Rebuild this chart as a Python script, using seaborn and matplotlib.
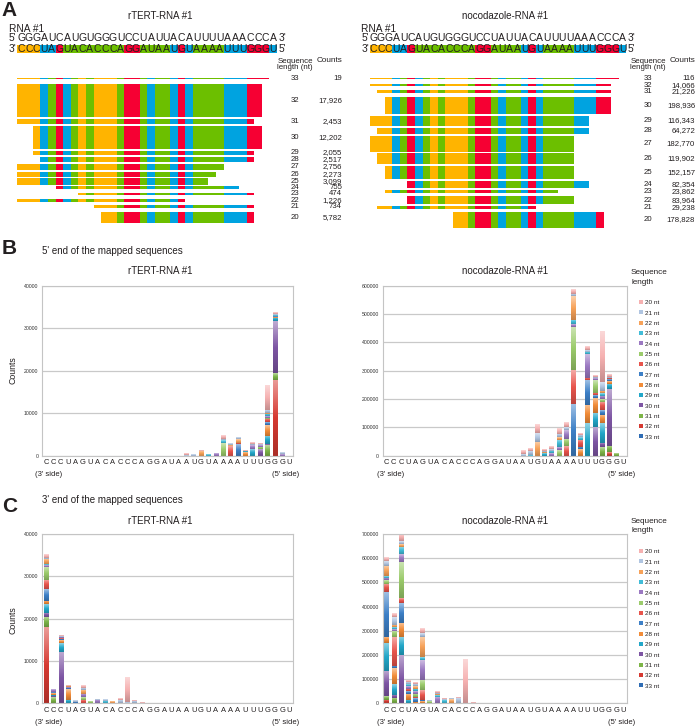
import numpy as np
import pandas as pd
import matplotlib
matplotlib.use("Agg")
import matplotlib.pyplot as plt
from matplotlib.lines import Line2D
from matplotlib.colors import LinearSegmentedColormap, to_rgb
import seaborn as sns

W, H = 696, 727

# ---------------------------------------------------------------- data
SEQ_TOP = "GGGAUCAUGUGGGUCCUAUUACAUUUUAAACCCA"
SEQ_BOT = "CCCUAGUACACCCAGGAUAAUGUAAAAUUUGGGU"
SEQ_HILITE = "CCCUUGAAAAAAAAGGAAAAUGUAAAAUUUGGGU"  # background key of the 3' row

READ_LEN = [33, 32, 31, 30, 29, 28, 27, 26, 25, 24, 23, 22, 21, 20]
RTERT_START = [1, 1, 1, 3, 3, 4, 1, 1, 1, 6, 9, 1, 11, 12]
RTERT_COUNTS = [19, 17926, 2453, 12202, 2055, 2517, 2756, 2273, 3099, 755, 474, 1226, 734, 5782]
NOCO_START = [1, 1, 2, 3, 1, 2, 1, 2, 3, 6, 3, 6, 2, 12]
NOCO_COUNTS = [116, 14066, 21226, 198936, 116343, 64272, 182770, 119902, 152157, 82354,
               23862, 83964, 29238, 178828]

# counts per position (1-based along SEQ_BOT) -> {read length: count}
END5_RTERT = {
    20: {20: 300, 21: 100},
    21: {21: 300},
    22: {22: 1200, 20: 100},
    23: {23: 250},
    24: {24: 500},
    25: {25: 3000, 23: 600, 21: 300, 20: 800},
    26: {26: 2300, 22: 200, 21: 300},
    27: {27: 2756, 26: 300, 22: 800, 21: 250},
    28: {28: 800, 23: 300, 20: 200},
    29: {29: 1500, 24: 900, 21: 400, 20: 400},
    30: {30: 1500, 25: 600, 24: 400, 21: 200, 20: 200},
    31: {31: 2453, 30: 200, 29: 2055, 28: 2517, 27: 600, 26: 800, 25: 300, 24: 300,
         23: 474, 22: 400, 21: 734, 20: 5782},
    32: {32: 17926, 31: 1500, 30: 12202, 29: 800, 28: 200, 27: 200, 23: 200, 22: 100,
         21: 200, 20: 300},
    33: {24: 300, 21: 400},
}
END5_NOCO = {
    20: {21: 5000, 20: 12000},
    21: {23: 3000, 21: 15000, 20: 10000},
    22: {22: 50000, 21: 30000, 20: 30000},
    23: {29: 8000, 22: 6000, 21: 4000, 20: 4000},
    24: {24: 8000, 23: 10000, 21: 6000, 20: 8000},
    25: {25: 20000, 24: 10000, 23: 25000, 22: 10000, 21: 13000, 20: 20000},
    26: {26: 35000, 25: 25000, 24: 30000, 21: 10000, 20: 15000},
    27: {27: 182770, 26: 119902, 25: 152157, 24: 10000, 23: 15000, 22: 83964, 21: 8000,
         20: 15000},
    28: {28: 22000, 27: 8000, 26: 25000, 23: 10000, 21: 8000, 20: 7000},
    29: {29: 116343, 28: 64272, 27: 85000, 26: 10000, 24: 82354, 23: 8000, 21: 6000,
         20: 13000},
    30: {30: 100000, 29: 50000, 28: 55000, 27: 10000, 26: 8000, 25: 45000, 24: 5000,
         21: 4000, 20: 5000},
    31: {31: 30000, 30: 15000, 29: 70000, 28: 30000, 27: 15000, 26: 30000, 25: 10000,
         24: 12000, 23: 8000, 22: 10000, 21: 30000, 20: 178828},
    32: {32: 14066, 31: 21226, 30: 198936, 29: 20000, 28: 10000, 27: 5000, 26: 5000,
         21: 5000, 20: 8000},
    33: {31: 8000},
}
END3_RTERT = {
    1: {32: 17926, 31: 2453, 30: 1000, 29: 2000, 28: 800, 27: 2756, 26: 2273, 25: 3099,
        24: 300, 23: 200, 22: 1226, 21: 300, 20: 800},
    2: {31: 1400, 30: 300, 29: 300, 28: 400, 27: 200, 24: 500},
    3: {30: 12202, 29: 2055, 28: 600, 27: 300, 26: 200, 24: 300, 21: 200, 20: 200},
    4: {29: 800, 28: 2517, 27: 300, 24: 200, 22: 300, 20: 200},
    5: {27: 300, 21: 400},
    6: {26: 800, 25: 600, 24: 755, 22: 1000, 21: 500, 20: 650},
    7: {25: 300},
    8: {24: 800, 21: 200},
    9: {23: 500, 21: 300},
    10: {22: 400},
    11: {21: 750, 20: 250},
    12: {21: 200, 20: 5782},
    13: {21: 500, 20: 100},
    14: {20: 150},
}
END3_NOCO = {
    1: {33: 116, 32: 14066, 31: 15000, 30: 105000, 29: 116343, 28: 25000, 27: 182770,
        26: 35000, 25: 15000, 24: 10000, 23: 8000, 22: 42000, 21: 20000, 20: 15000},
    2: {31: 21226, 30: 15000, 29: 45000, 28: 64272, 27: 10000, 26: 119902, 25: 25000,
        24: 8000, 23: 7000, 22: 10000, 21: 30000, 20: 14000},
    3: {30: 198936, 29: 75000, 28: 60000, 27: 80000, 26: 20000, 25: 152157, 24: 30000,
        23: 30000, 22: 12000, 21: 12000, 20: 30000},
    4: {29: 15000, 28: 25000, 27: 10000, 26: 10000, 24: 10000, 23: 8000, 21: 12000,
        20: 8000},
    5: {28: 5000, 27: 15000, 26: 5000, 25: 15000, 24: 10000, 23: 10000, 22: 10000,
        21: 10000, 20: 8000},
    6: {28: 8000, 27: 5000, 26: 40000, 25: 45000, 24: 82354, 23: 10000, 22: 83964,
        21: 15000, 20: 20000},
    7: {25: 8000, 21: 4000},
    8: {24: 25000, 23: 8000, 22: 5000, 21: 6000, 20: 8000},
    9: {23: 15000, 21: 3000, 20: 2000},
    10: {22: 16000, 21: 4000},
    11: {21: 22000, 20: 3000},
    12: {20: 178828},
    13: {20: 3000},
}

NUC_COLORS = {"C": "#FFB400", "U": "#00A3E0", "A": "#6CBF00", "G": "#F60033"}
SERIES_COLORS = {
    33: "#2F6DB5", 32: "#D63A32", 31: "#7DB548", 30: "#7E56A4", 29: "#22A7C9", 28: "#F28C38",
    27: "#3D80C7", 26: "#E8544C", 25: "#9BCB6B", 24: "#9B79C2", 23: "#41BCD8", 22: "#F7A259",
    21: "#B0C5E1", 20: "#F6B1B1",
}

# ---------------------------------------------------------------- style
sns.set_style("white")
plt.rcParams["font.family"] = ["Liberation Sans", "DejaVu Sans"]
plt.rcParams["text.color"] = "#231F20"

fig = plt.figure(figsize=(W / 100, H / 100), dpi=100)


def px_rect(left, top, width, height):
    return [left / W, 1 - (top + height) / H, width / W, height / H]


def ftext(x, y, s, **kw):
    kw.setdefault("va", "center")
    fig.text(x / W, 1 - y / H, s, **kw)


# ---------------------------------------------------------------- panel A
def draw_alignment(left, x0, step, starts, counts, k, title, title_x, len_x, cnt_x):
    ax = fig.add_axes(px_rect(left, 0, 348, 232))
    ax.set_xlim((left - x0) / step, (left + 348 - x0) / step)
    ax.set_ylim(232, 0)
    ax.axis("off")

    def u(px):
        return (px - x0) / step

    ax.text(u(title_x), 16, title, ha="center", va="center", fontsize=7)
    ax.text(-1.15, 29, "RNA #1", ha="left", va="center", fontsize=7.3)

    ax.text(-0.1, 38, "5'", ha="right", va="center", fontsize=7.3)
    ax.text(34.15, 38, "3'", ha="left", va="center", fontsize=7.3)
    for i, ch in enumerate(SEQ_TOP):
        ax.text(i + 0.5, 38, ch, ha="center", va="center", fontsize=7.5)

    ax.barh(49.2, 1, left=np.arange(34), height=8.6,
            color=[NUC_COLORS[c] for c in SEQ_HILITE], linewidth=0)
    ax.text(-0.1, 49.4, "3'", ha="right", va="center", fontsize=7.3)
    ax.text(34.15, 49.4, "5'", ha="left", va="center", fontsize=7.3)
    for i, ch in enumerate(SEQ_BOT):
        ax.text(i + 0.5, 49.4, ch, ha="center", va="center", fontsize=7.5)

    ax.text(u(len_x), 64.5, "Sequence\nlength (nt)", ha="center", va="center",
            fontsize=5.7, linespacing=0.85)
    ax.text(u(cnt_x), 61, "Counts", ha="right", va="center", fontsize=5.9)

    y = 77.8
    for length, s, c in zip(READ_LEN, starts, counts):
        h = 1 + k * c
        idx = np.arange(s - 1, s - 1 + length)
        ax.barh(y + h / 2, 1, left=idx, height=h,
                color=[NUC_COLORS[SEQ_BOT[i]] for i in idx], linewidth=0)
        ax.text(u(len_x), y + h / 2, str(length), ha="center", va="center", fontsize=5.6)
        ax.text(u(cnt_x), y + h / 2, f"{c:,}", ha="right", va="center", fontsize=5.6)
        y += max(h + 1.6, 6.3)


draw_alignment(0, 17.3, 7.64, RTERT_START, RTERT_COUNTS, 0.0018, "rTERT-RNA #1", 160, 295, 342)
draw_alignment(348, 369.7, 7.55, NOCO_START, NOCO_COUNTS, 0.000082, "nocodazole-RNA #1",
               505, 648, 695)


# ---------------------------------------------------------------- panels B / C
def stack_table(data):
    rows = [(pos - 1, length, c) for pos, seg in data.items() for length, c in seg.items()]
    df = pd.DataFrame(rows, columns=["pos", "length", "count"])
    tab = df.pivot_table(index="pos", columns="length", values="count", aggfunc="sum",
                         fill_value=0)
    return tab.reindex(index=range(34), columns=READ_LEN, fill_value=0)


def gradient_cmap(color):
    c = np.array(to_rgb(color))
    dark = c * 0.8
    light = c + (1 - c) * 0.5
    return LinearSegmentedColormap.from_list("g", [dark, c, light])


def draw_stack(rect, data, ymax, ystep, legend_top=None):
    ax = fig.add_axes(px_rect(*rect))
    tab = stack_table(data)
    cum = tab.cumsum(axis=1)
    for length in reversed(READ_LEN):
        sns.barplot(x=list(cum.index), y=cum[length].values, order=list(range(34)),
                    color=SERIES_COLORS[length], width=0.6, saturation=1,
                    errorbar=None, linewidth=0, ax=ax)
    # excel-like shading of each stacked segment, dark at the base, pale at the top
    ramp = np.linspace(0, 1, 64).reshape(-1, 1)
    for pos in tab.index:
        base = 0
        for length in READ_LEN:
            c = tab.at[pos, length]
            if c > 0:
                ax.imshow(ramp, extent=[pos - 0.3, pos + 0.3, base, base + c], origin="lower",
                          cmap=gradient_cmap(SERIES_COLORS[length]), aspect="auto",
                          interpolation="bilinear", zorder=2.5)
            base += c
    ax.set_xlim(-0.5, 33.5)
    ax.set_ylim(0, ymax)
    ax.set_aspect("auto")
    ax.set_xlabel("")
    ax.set_ylabel("")
    ticks = np.arange(0, ymax + 1, ystep)
    ax.set_yticks(ticks, labels=[str(int(t)) for t in ticks])
    ax.set_xticks(range(34), labels=list(SEQ_BOT))
    ax.tick_params(axis="y", labelsize=3.7, length=0, pad=3, labelcolor="#333333")
    ax.tick_params(axis="x", labelsize=5.4, length=0, pad=2.5, labelcolor="#231F20")
    ax.yaxis.grid(True, color="#C9C9C9", linewidth=0.9)
    ax.set_axisbelow(True)
    for sp in ax.spines.values():
        sp.set_color("#C4C4C4")
        sp.set_linewidth(0.8)

    if legend_top is not None:
        handles = [Line2D([], [], marker="s", linestyle="", markersize=2.4,
                          markerfacecolor=SERIES_COLORS[L], markeredgewidth=0)
                   for L in reversed(READ_LEN)]
        labels = [f"{L} nt" for L in reversed(READ_LEN)]
        leg = ax.legend(handles, labels, loc="upper left",
                        bbox_to_anchor=(631 / W, 1 - legend_top / H),
                        bbox_transform=fig.transFigure, frameon=False, fontsize=4.6,
                        title="Sequence\nlength\n", title_fontsize=5.9,
                        handlelength=0.5, handletextpad=0.25, labelspacing=0.76,
                        borderpad=0, borderaxespad=0)
        leg.get_title().set_linespacing(1.5)
    return ax


draw_stack((42.3, 285.7, 251, 170), END5_RTERT, 40000, 10000)
draw_stack((383, 285.7, 244, 170), END5_NOCO, 600000, 100000, legend_top=269)
draw_stack((42.3, 534, 251, 169.3), END3_RTERT, 40000, 10000)
draw_stack((383, 534, 244, 169.3), END3_NOCO, 700000, 100000, legend_top=518)

# ---------------------------------------------------------------- labels
ftext(1, 11, "A", fontsize=15, fontweight="bold", ha="left")
ftext(2, 249, "B", fontsize=15, fontweight="bold", ha="left")
ftext(2, 507, "C", fontsize=15, fontweight="bold", ha="left")
ftext(42, 251, "5' end of the mapped sequences", fontsize=7, ha="left")
ftext(42, 500, "3' end of the mapped sequences", fontsize=7, ha="left")
for y in (271, 521):
    ftext(160, y, "rTERT-RNA #1", fontsize=7, ha="center")
    ftext(505, y, "nocodazole-RNA #1", fontsize=7, ha="center")
for y in (370, 620):
    ftext(13, y, "Counts", fontsize=6.3, ha="center", rotation=90)
for y in (475, 722):
    ftext(35, y, "(3' side)", fontsize=5.5, ha="left")
    ftext(299, y, "(5' side)", fontsize=5.5, ha="right")
    ftext(377, y, "(3' side)", fontsize=5.5, ha="left")
    ftext(635, y, "(5' side)", fontsize=5.5, ha="right")

fig.savefig("out.png", dpi=100)
